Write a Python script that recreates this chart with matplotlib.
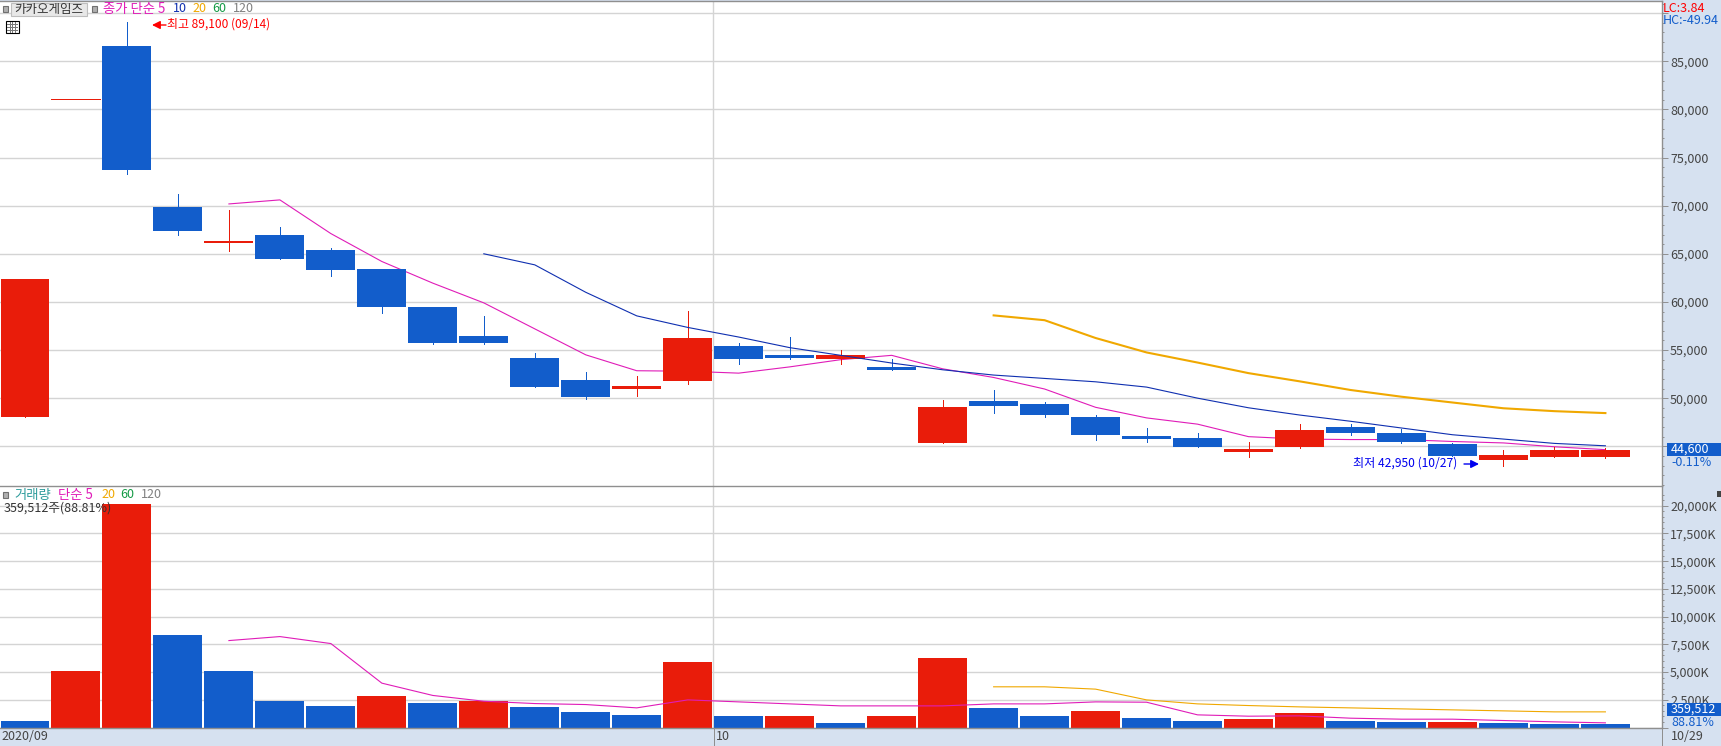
import numpy as np
import matplotlib
matplotlib.use('Agg')
import matplotlib.pyplot as plt
from matplotlib.patches import Rectangle, FancyArrowPatch
from matplotlib.lines import Line2D

plt.rcParams['font.family'] = ['Noto Sans CJK KR', 'DejaVu Sans']

W = 1721
H = 746

# candles
opens = [48000, 81100, 86600, 69900, 66100, 67000, 65350, 63400, 59450, 56500, 54150, 51850,
         51000, 51800, 55450, 54500, 54100, 53200, 45300, 49750, 49350, 48050, 46050, 45850,
         44400, 44950, 47000, 46400, 45250, 43600, 43900, 43900]
closes = [62400, 81100, 73700, 67400, 66300, 64500, 63300, 59450, 55700, 55700, 51150, 50150,
          51300, 56300, 54100, 54200, 54500, 52950, 49100, 49150, 48200, 46200, 45750, 44950,
          44700, 46700, 46400, 45450, 44000, 44100, 44600, 44600]
highs = [62400, 81100, 89100, 71200, 69500, 67750, 65650, 63400, 59450, 58500, 54650, 52750,
         52350, 59100, 55750, 56400, 55050, 54100, 49850, 50800, 49650, 48200, 46900, 46400,
         45450, 47300, 47300, 46800, 45350, 44600, 44950, 44850]
lows = [48000, 81100, 73300, 67000, 65250, 64500, 62650, 58900, 55600, 55600, 51150, 49950,
        50250, 51500, 53500, 54100, 53600, 52950, 45300, 48500, 48000, 45700, 45450, 44950,
        43900, 44850, 46200, 45350, 44000, 42950, 43900, 43800]

ma5_start = 4
ma5 = [70180, 70600, 67100, 64200, 61950, 59900, 57200, 54500, 52850, 52800, 52600, 53250,
       54000, 54450, 53050, 52150, 50950, 49050, 47950, 47300, 46000, 45750, 45700, 45700,
       45500, 45350, 44950, 44650]
ma10_start = 9
ma10 = [65000, 63850, 61000, 58550, 57350, 56350, 55250, 54450, 53650, 52950, 52400, 52050,
        51700, 51150, 50000, 49000, 48250, 47600, 46900, 46200, 45750, 45300, 45050]
ma20_start = 19
ma20 = [58600, 58100, 56250, 54750, 53700, 52600, 51750, 50850, 50150, 49550, 48950, 48650, 48450]

# volume in thousands
volume = [570, 5080, 20200, 8320, 5080, 2370, 1920, 2830, 2190, 2370, 1830, 1440,
          1170, 5950, 1080, 1080, 450, 1080, 6310, 1800, 1080, 1530, 900, 630,
          810, 1350, 630, 540, 540, 450, 360, 360]
vol_up = [0, 1, 1, 0, 0, 0, 0, 1, 0, 1, 0, 0, 0, 1, 0, 1, 0, 1, 1, 0, 0, 1, 0, 0, 1, 1, 0, 0, 1, 0, 0, 0]
vol_ma5 = [7840, 8200, 7570, 4000, 2890, 2370, 2160, 2070, 1770, 2490, 2310, 2130,
           1950, 1950, 1950, 2130, 2130, 2310, 2280, 1140, 1020, 1050, 840, 750,
           750, 630, 510, 420]
vol_ma20 = [3670, 3670, 3460, 2490, 2130, 1980, 1860, 1770, 1680, 1590, 1500, 1410, 1410]

price_ticks = [45000, 50000, 55000, 60000, 65000, 70000, 75000, 80000, 85000, 90000]
vol_ticks = [0, 2500, 5000, 7500, 10000, 12500, 15000, 17500, 20000]

RED = '#E91C0A'
BLUE = '#125DCB'
MAGENTA = '#E01CB8'
NAVY = '#0F2FB0'
ORANGE = '#F0A800'
GREEN = '#149A45'
GRAY = '#808080'
TEAL = '#2E9C9C'
GRID = '#D4D4D4'
EDGE = '#8F8F8F'
PANE = '#D6E1F0'
TXT = '#444444'
FS = 9.0


def fx(x):
    return x / W


def fy(y):
    return 1 - y / H


def label(x, y, s, color=TXT, size=FS):
    return fig.text(fx(x), fy(y), s, color=color, fontsize=size, ha='left', va='center', zorder=8)


def box(x0, y0, x1, y1, face, edge='none', z=5):
    r = Rectangle((fx(x0), fy(y1)), fx(x1 - x0), (y1 - y0) / H, transform=fig.transFigure,
                  facecolor=face, edgecolor=edge, linewidth=0.8, zorder=z)
    fig.add_artist(r)


def line(x0, y0, x1, y1, color, lw=0.7, z=5):
    fig.add_artist(Line2D([fx(x0), fx(x1)], [fy(y0), fy(y1)], color=color, lw=lw, zorder=z,
                          antialiased=False))


def arrow(x_tip, x_tail, y, color):
    fig.add_artist(FancyArrowPatch(
        (fx(x_tail), fy(y)), (fx(x_tip), fy(y)), transform=fig.transFigure,
        arrowstyle='-|>', mutation_scale=12, color=color, lw=1, shrinkA=0, shrinkB=0, zorder=6))


fig = plt.figure(figsize=(W / 100, H / 100), dpi=100, facecolor=PANE)

right = 1662
ax1 = fig.add_axes([0, fy(486), fx(right), (486 - 1) / H])
ax2 = fig.add_axes([0, fy(728), fx(right), (728 - 486) / H])

x_left = -0.49
x_right = 32.11
n = len(closes)
xs = np.arange(n)
width = 0.96

# price panel
ax1.set_xlim(x_left, x_right)
ax1.set_ylim(40874, 91265)
ax1.set_yticks(price_ticks)
ax1.set_yticks(np.arange(41000, 92000, 1000), minor=True)
ax1.set_yticklabels([f'{v:,}' if v < 90000 else '' for v in price_ticks])
ax1.grid(axis='y', color=GRID, lw=1.0, zorder=0)
ax1.axvline(13.5, color=GRID, lw=1.0, zorder=0)

for i in range(n):
    c = RED if closes[i] >= opens[i] else BLUE
    ax1.vlines(xs[i], lows[i], highs[i], color=c, lw=0.7, zorder=3, antialiased=False)
    if opens[i] == closes[i]:
        ax1.hlines(closes[i], xs[i] - width / 2, xs[i] + width / 2, color=c, lw=0.7, zorder=3,
                   antialiased=False)
    else:
        ax1.bar(xs[i], abs(closes[i] - opens[i]), bottom=min(opens[i], closes[i]), width=width,
                color=c, zorder=3, antialiased=False)

ax1.plot(xs[ma5_start:ma5_start + len(ma5)], ma5, color=MAGENTA, lw=0.8, zorder=2)
ax1.plot(xs[ma10_start:ma10_start + len(ma10)], ma10, color=NAVY, lw=0.8, zorder=4)
ax1.plot(xs[ma20_start:ma20_start + len(ma20)], ma20, color=ORANGE, lw=1.5, zorder=2)

# volume panel
ax2.set_xlim(x_left, x_right)
ax2.set_ylim(-45, 21780)
ax2.set_yticks(vol_ticks)
ax2.set_yticks(np.arange(0, 21500, 500), minor=True)
ax2.set_yticklabels([f'{v:,}K' if v > 0 else '' for v in vol_ticks])
ax2.grid(axis='y', color=GRID, lw=1.0, zorder=0)
ax2.axvline(13.5, color=GRID, lw=1.0, zorder=0)
ax2.bar(xs, volume, width=width, color=[RED if u else BLUE for u in vol_up], zorder=2,
        antialiased=False)
ax2.plot(xs[4:4 + len(vol_ma5)], vol_ma5, color=MAGENTA, lw=0.8, zorder=4)
ax2.plot(xs[19:19 + len(vol_ma20)], vol_ma20, color=ORANGE, lw=0.8, zorder=3)

for ax in (ax1, ax2):
    ax.set_facecolor('white')
    ax.set_xticks([])
    ax.yaxis.tick_right()
    ax.tick_params(axis='y', which='major', length=4.3, width=0.7, color=EDGE, labelcolor=TXT,
                   labelsize=FS, pad=1.5)
    ax.tick_params(axis='y', which='minor', length=1.6, width=0.7, color=EDGE)
    for s in ax.spines:
        ax.spines[s].set_color(EDGE)
        ax.spines[s].set_linewidth(1.0)
    ax.spines['left'].set_visible(False)
ax1.spines['bottom'].set_visible(False)

# bottom date strip
line(right, 728, right, H, EDGE)
line(713.5, 728, 713.5, H, EDGE)
label(1, 737, '2020/09')
label(716, 737, '10')
label(1671, 737, '10/29')

# price panel header
box(3, 6, 8, 12, '#B0B0B0', '#707070')
box(10.5, 2.5, 87, 16, '#E8E8E8', '#BEBEBE')
label(14, 9.5, '카카오게임즈', '#333333')
box(92, 6, 97, 12, '#B0B0B0', '#707070')
label(103, 9, '종가 단순 5', MAGENTA, 9.6)
label(173, 9, '10', NAVY)
label(192, 9, '20', ORANGE)
label(212, 9, '60', GREEN)
label(233, 9, '120', GRAY)

# small table icon
box(5.5, 20.5, 18.5, 33, 'white', 'black')
for yy in (24, 27, 30):
    line(7, yy, 17, yy, '#777777', 0.6, 6)
for xx in (9.5, 12, 14.5):
    line(xx, 22, xx, 32, '#777777', 0.6, 6)

arrow(152, 166, 25, 'red')
label(167, 24.5, '최고 89,100 (09/14)', 'red', 8.6)
label(1353, 463, '최저 42,950 (10/27)', '#0000EE', 8.7)
arrow(1479, 1464, 464, '#0000EE')

label(1663, 8, 'LC:3.84', 'red')
label(1663, 20, 'HC:-49.94', BLUE)

# close price and volume boxes
box(1667, 443, W, 456, BLUE, z=7)
label(1671, 449.5, '44,600', 'white')
label(1671, 462.5, '-0.11%', BLUE)
box(1667, 703, W, 716, BLUE, z=7)
label(1671, 709.5, '359,512', 'white')
label(1671, 722.5, '88.81%', BLUE)

# volume panel header
box(3, 492, 8, 498, '#B0B0B0', '#707070')
label(14, 495, '거래량', TEAL, 9.6)
label(58, 495, '단순 5', MAGENTA, 9.6)
label(101, 495, '20', ORANGE)
label(120, 495, '60', GREEN)
label(141, 495, '120', GRAY)
label(4, 508.5, '359,512주(88.81%)', '#333333')
box(1717, 491, W, 497, '#444444', z=6)

fig.savefig('out.png', dpi=100, facecolor=fig.get_facecolor())
